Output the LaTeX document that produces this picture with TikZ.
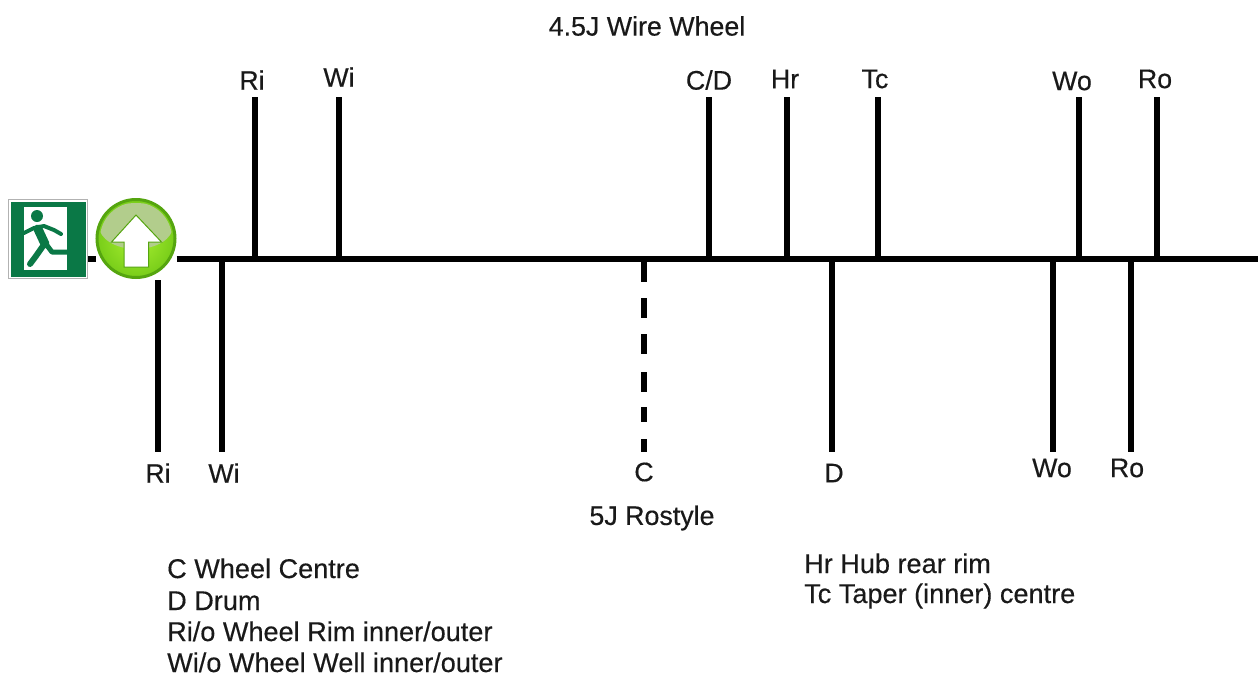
\documentclass[tikz,border=0pt]{standalone}
\usepackage{fontspec}
\setmainfont[FakeBold=0.35]{Liberation Sans}
\definecolor{exitgreen}{RGB}{10,120,70}
\definecolor{btnA}{RGB}{170,240,50}
\definecolor{btnB}{RGB}{120,205,25}
\definecolor{btnRim}{RGB}{85,165,15}
\definecolor{btnHi}{RGB}{178,205,140}
\tikzset{
  x=1pt,y=-1pt,
  lbl/.style={inner sep=0pt,font=\fontsize{26.8}{30}\selectfont,text=black!90},
  legend/.style={inner sep=0pt,anchor=base west,font=\fontsize{27.1}{30}\selectfont,text=black!90},
  axisline/.style={line width=5.5pt,black},
  tick/.style={line width=5.5pt,black},
  dashtick/.style={line width=6pt,black,dash pattern=on 20pt off 16pt on 20pt off 16pt on 20pt off 18pt on 20pt off 15pt on 15pt off 17pt on 13pt off 100pt},
}
\begin{document}
\begin{tikzpicture}
\useasboundingbox (0,0) rectangle (1258,678);
% titles
\node[lbl] (title) at (647,26) {4.5J Wire Wheel};
\node[lbl] (sub) at (652,518) {5J Rostyle};
% exit sign
\node[draw=black!30,fill=white,line width=1pt,minimum width=79pt,minimum height=79pt,inner sep=0pt] (exit) at (48,239) {};
\fill[exitgreen] (10.5,201.5) rectangle (85.5,276.5);
\fill[white] (23.5,207) rectangle (67,270);
\begin{scope}[exitgreen]
 \fill (37,216) circle (6);
 \draw[line width=4pt,line cap=round,line join=round] (24,233) -- (34,228) -- (44,226) -- (54,230) -- (61,234);
 \draw[line width=9pt,line cap=round,line join=round] (38,229) -- (45,244);
 \draw[line width=5pt,line join=round] (46,244) -- (52,252) -- (72,252);
 \draw[line width=6pt,line cap=round,line join=round] (43,246) -- (36,256) -- (30,264);
\end{scope}
% green button
\node[circle,minimum size=78pt,inner sep=0pt,draw=btnRim,line width=3pt,inner color=btnA,outer color=btnB] (btn) at (136,238.5) {};
\begin{scope}
 \clip (136,238.5) circle (36);
 \fill[btnHi] (136,226) ellipse (37 and 23);
\end{scope}
\fill[white,draw=btnRim,line width=1pt,line join=miter]
  (136,215) -- (161.5,242) -- (148.5,242) -- (148.5,267) -- (124,267) -- (124,242) -- (111.5,242) -- cycle;
% axis
\coordinate (axisend) at (1258,259);
\draw[axisline] (exit.east |- 0,259) -- (btn.west |- 0,259);
\draw[axisline] (btn.east |- 0,259) -- (axisend);
% upper labels
\node[lbl] (uRi) at (252,80) {Ri};
\node[lbl] (uWi) at (339,77) {Wi};
\node[lbl] (uCD) at (709,80) {C/D};
\node[lbl] (uHr) at (785,79) {Hr};
\node[lbl] (uTc) at (875,79) {Tc};
\node[lbl] (uWo) at (1072,81) {Wo};
\node[lbl] (uRo) at (1155,79) {Ro};
\foreach \n/\x in {uRi/255,uWi/339,uCD/709,uHr/787,uTc/878,uWo/1079,uRo/1157}{
  \coordinate (t\n) at (\x,97);
  \coordinate (b\n) at (\x,259);
  \draw[tick] (t\n) -- (b\n);
}
% lower labels
\node[lbl] (lRi) at (158,473) {Ri};
\node[lbl] (lWi) at (224,473) {Wi};
\node[lbl] (lC) at (644,472) {C};
\node[lbl] (lD) at (834,473) {D};
\node[lbl] (lWo) at (1052,468) {Wo};
\node[lbl] (lRo) at (1127,468) {Ro};
\coordinate (sRi) at (158,280);
\coordinate (eRi) at (158,452);
\draw[tick] (sRi) -- (eRi);
\foreach \n/\x in {lWi/222,lD/832,lWo/1053,lRo/1131}{
  \coordinate (s\n) at (\x,259);
  \coordinate (e\n) at (\x,452);
  \draw[tick] (s\n) -- (e\n);
}
\coordinate (sC) at (644,262);
\coordinate (eC) at (644,453);
\draw[dashtick] (sC) -- (eC);
% legends
\node[legend] (k1) at (167,578) {C Wheel Centre};
\node[legend] (k2) at (167,610) {D Drum};
\node[legend] (k3) at (167,641) {Ri/o Wheel Rim inner/outer};
\node[legend] (k4) at (167,672) {Wi/o Wheel Well inner/outer};
\node[legend] (k5) at (804,573) {Hr Hub rear rim};
\node[legend] (k6) at (804,603) {Tc Taper (inner) centre};
\end{tikzpicture}
\end{document}
